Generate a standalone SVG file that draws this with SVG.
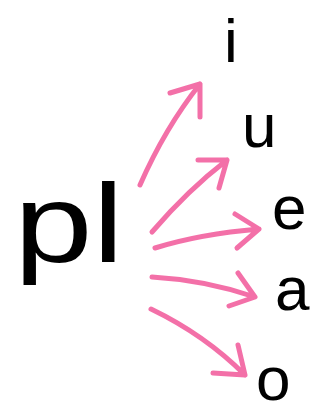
<svg xmlns="http://www.w3.org/2000/svg" width="331" height="415" viewBox="0 0 331 415">
<style>
.lt{font-family:"Liberation Sans","DejaVu Sans",sans-serif;fill:#000}
.ar{fill:none;stroke:#f2609f;stroke-width:5;stroke-linecap:round;stroke-linejoin:round;opacity:0.9}
</style>
<rect width="331" height="415" fill="#fff"/>
<g id="pl"><text class="lt" x="14" y="262" font-size="112" textLength="110" lengthAdjust="spacingAndGlyphs">pl</text></g>
<g id="i"><text class="lt" x="224" y="62" font-size="62">i</text></g>
<g id="u"><text class="lt" x="242" y="147" font-size="62">u</text></g>
<g id="e"><text class="lt" x="272" y="229" font-size="62">e</text></g>
<g id="a"><text class="lt" x="275" y="310" font-size="62">a</text></g>
<g id="o"><text class="lt" x="256" y="400" font-size="62">o</text></g>
<g id="connectors">
<path class="ar" d="M140 185 Q165 128 200 84 M170 93 L200 84 L200 117"/>
<path class="ar" d="M152 232 Q188 190 227 160 M198 160 L227 160 L219 188"/>
<path class="ar" d="M155 248 Q200 234 259 229 M235 214 L259 229 L237 248"/>
<path class="ar" d="M152 277 Q205 280 255 297 M238 273 L255 297 L229 306"/>
<path class="ar" d="M151 309 Q205 335 245 375 M238 345 L245 375 L213 373"/>
</g>
</svg>
